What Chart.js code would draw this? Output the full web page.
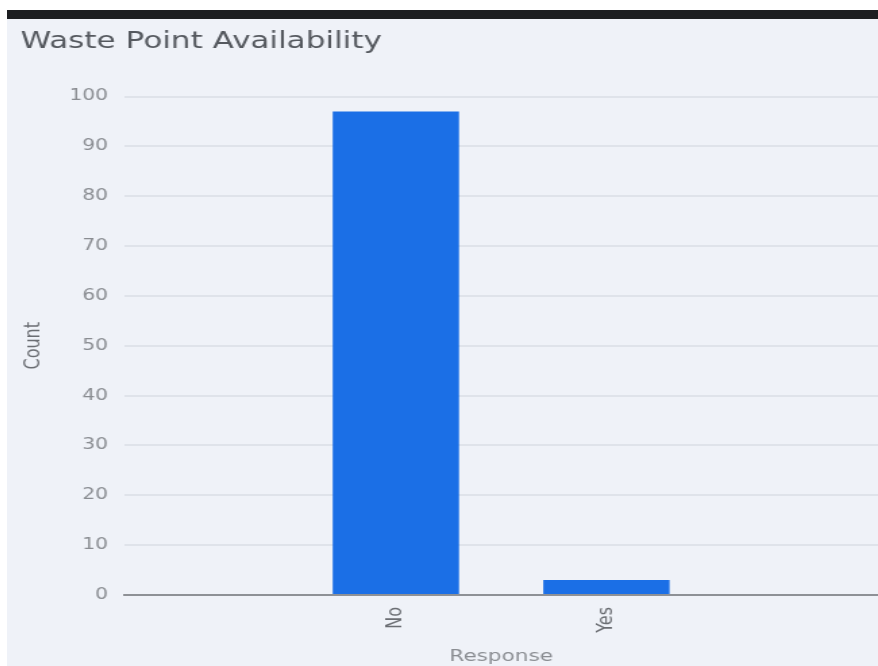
<!DOCTYPE html>
<html>
<head>
<meta charset="utf-8">
<script src="https://cdn.jsdelivr.net/npm/chart.js@4.4.0/dist/chart.umd.min.js"></script>
<style>
  html, body { margin: 0; padding: 0; background: #ffffff; }
  body { width: 878px; height: 666px; position: relative; overflow: hidden; }
  #topbar { position: absolute; left: 7px; top: 10px; width: 871px; height: 9px; background: #1c1e21; }
  #panel { position: absolute; left: 7px; top: 19px; width: 871px; height: 647px; background: #eff2f8; }
  /* the chart is laid out narrow and widened to the panel */
  #wrap { position: absolute; left: 0; top: 0; width: 645px; height: 647px; transform: scaleX(1.3504); transform-origin: 0 0; }
</style>
</head>
<body>
<div id="topbar"></div>
<div id="panel"><div id="wrap"><canvas id="myChart"></canvas></div></div>
<script>
const ctx = document.getElementById('myChart');

const responses = ['No', 'Yes']
const counts = [97, 3]
const yTicks = [0, 10, 20, 30, 40, 50, 60, 70, 80, 90, 100]

const barData = responses.map((name, i) => {
  return { x: i, y: counts[i] }
})

const myChart = new Chart(ctx, {
  type: 'bar',
  data: {
    datasets: [{
      label: 'Count',
      data: barData,
      backgroundColor: '#1b6fe6',
      borderWidth: 0,
      barPercentage: 0.6,
      categoryPercentage: 1
    }]
  },
  options: {
    responsive: true,
    maintainAspectRatio: false,
    animation: false,
    layout: { padding: { left: 10, right: 0, top: 0, bottom: 0 } },
    plugins: {
      legend: { display: false },
      tooltip: { enabled: false },
      title: {
        display: true,
        text: 'Waste Point Availability',
        align: 'start',
        color: '#55595f',
        font: { family: 'DejaVu Sans', size: 23, weight: 'normal' },
        padding: { top: 9, bottom: 41 }
      }
    },
    scales: {
      x: {
        type: 'linear',
        min: -1.29,
        max: 2.29,
        offset: false,
        afterBuildTicks: (axis) => {
          axis.ticks = responses.map((name, i) => ({ value: i }))
        },
        ticks: {
          autoSkip: false,
          maxRotation: 90,
          minRotation: 90,
          padding: 12,
          color: '#6b6e73',
          font: { family: 'DejaVu Sans', size: 16 },
          callback: (value) => responses[value] ?? ''
        },
        grid: { display: false, drawTicks: false },
        border: { display: true, color: '#8e9196', width: 2 },
        title: {
          display: true,
          text: 'Response',
          color: '#8a8d92',
          font: { family: 'DejaVu Sans', size: 16 },
          padding: { top: 2, bottom: 0 }
        }
      },
      y: {
        min: 0,
        max: 100,
        afterBuildTicks: (axis) => {
          axis.ticks = yTicks.map((v) => ({ value: v }))
        },
        ticks: {
          padding: 12,
          color: '#8a8d92',
          font: { family: 'DejaVu Sans', size: 15 }
        },
        grid: { color: '#dfe3ea', lineWidth: 2, drawTicks: false },
        border: { display: false },
        title: {
          display: true,
          text: 'Count',
          color: '#6b6e73',
          font: { family: 'DejaVu Sans', size: 16 },
          padding: { top: 0, bottom: 5 }
        }
      }
    }
  }
})
</script>
</body>
</html>
